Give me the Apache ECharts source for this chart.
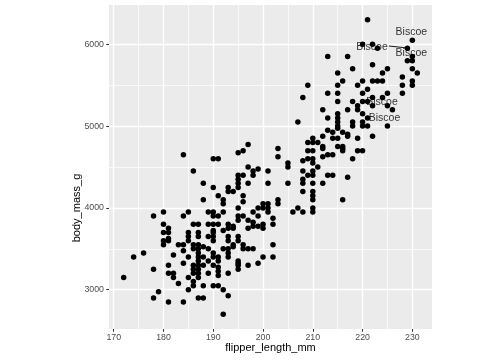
<!DOCTYPE html>
<html><head><meta charset="utf-8">
<script src="https://cdn.jsdelivr.net/npm/echarts@6/dist/echarts.min.js"></script>
<style>html,body{margin:0;padding:0;background:#fff}#c{width:504px;height:360px}</style>
</head><body><div id="c"></div>
<script>
// flipper_length_mm / body_mass_g pairs
const flipper = [
178,180,184,185,186,180,180,181,181,185,185,185,180,180,181,181,183,184,186,186,176,174,172,178,182,184,184,185,181,181,182,182,183,185,186,186,186,185,179,178,181,184,184,
197,196,195,190,191,197,199,186,198,201,195,196,198,195,188,195,197,201,190,193,195,193,194,191,196,188,192,196,192,200,201,195,199,200,201,189,190,192,198,201,190,191,195,196,199,195,197,198,187,189,190,191,193,200,194,198,199,193,194,197,200,190,192,187,190,187,189,190,193,195,190,193,195,187,194,196,188,194,187,189,192,193,196,197,198,187,190,193,187,188,190,191,193,200,187,189,191,195,195,199,187,188,190,195,197,191,186,187,195,191,186,187,189,193,191,187,188,190,191,192,193,187,188,192,
209,208,213,215,215,215,207,212,213,215,215,215,215,215,217,213,214,214,216,215,217,212,210,211,209,210,209,210,212,212,212,213,214,215,216,216,216,209,210,210,208,203,203,205,205,211,208,209,210,210,205,208,208,210,212,213,214,217,208,210,210,210,216,203,203,206,207,208,210,210,202,202,202,202,
221,230,220,222,223,229,230,230,229,217,213,222,218,225,224,215,231,230,228,228,228,230,230,216,220,222,223,224,219,221,220,225,218,219,220,221,222,222,224,225,226,219,220,221,220,220,218,218,221,225,217,219,222,219,220,218
];
const mass = [
3900,3950,3900,3950,3800,3800,3700,3750,3700,3700,3650,3600,3600,3550,3625,3600,3550,3550,3550,3500,3450,3400,3150,3250,3425,3475,3325,3400,3300,3200,3200,3150,3075,3150,3300,3100,3050,3000,2975,2900,2850,2850,4650,
4775,4700,4675,4600,4600,4500,4475,4450,4450,4450,4400,4400,4400,4350,4300,4300,4300,4300,4250,4250,4250,4200,4200,4150,4150,4100,4100,4075,4050,4050,4050,4000,4000,4000,4000,3950,3950,3950,3950,3950,3900,3900,3900,3900,3900,3850,3850,3825,3800,3800,3800,3800,3800,3800,3775,3775,3775,3750,3750,3750,3750,3725,3725,3700,3700,3650,3650,3650,3650,3650,3600,3600,3600,3550,3550,3550,3525,3525,3500,3500,3500,3500,3500,3500,3500,3450,3450,3450,3400,3400,3400,3400,3400,3400,3350,3350,3350,3350,3325,3325,3300,3300,3300,3300,3300,3275,3250,3250,3250,3225,3200,3200,3200,3200,3175,3150,3050,3050,3050,3000,2925,2900,2900,2700,
5500,5350,5400,5500,5400,5300,5050,5200,5100,5150,5100,5050,5000,4975,5200,4950,4925,4850,4925,4850,4900,4875,4850,4800,4800,4800,4700,4700,4750,4725,4625,4650,4650,4750,4750,4725,4700,4600,4600,4550,4575,4725,4625,4550,4500,4500,4450,4400,4450,4400,4300,4350,4300,4300,4300,4400,4400,4375,4200,4200,4150,4100,4100,4100,4050,3950,4000,3950,4000,3950,3875,3800,3550,3400,
6300,6050,6000,6000,5950,5950,5850,5800,5800,5850,5850,5750,5700,5700,5650,5650,5650,5700,5600,5500,5400,5550,5500,5550,5550,5550,5550,5550,5500,5450,5400,5400,5300,5250,5300,5300,5350,5250,5350,5250,5200,5200,5150,5100,5050,5000,5050,5000,5000,5000,4875,4850,4875,4700,4700,4600
];
const xTicks = [170,180,190,200,210,220,230];
const yTicks = [3000,4000,5000,6000];
const labelText = ['Biscoe','Biscoe','Biscoe','Biscoe','Biscoe'];
const labelX = [229.8,221.9,229.8,223.9,224.4];
const labelY = [6148,5971,5897,5299,5100];
const segX = [225.3,228.9];
const segY = [5979,5955];

const FONT = "'Liberation Sans', Arial, sans-serif";
const xr = [Math.min(...flipper), Math.max(...flipper)];
const yr = [Math.min(...mass), Math.max(...mass)];
const xMin = xr[0] - 0.05*(xr[1]-xr[0]), xMax = xr[1] + 0.05*(xr[1]-xr[0]);
const yMin = yr[0] - 0.05*(yr[1]-yr[0]), yMax = yr[1] + 0.05*(yr[1]-yr[0]);

const xMinor = xTicks.map(v => v + 5).filter(v => v > xMin && v < xMax);
const yMinor = [yTicks[0]-500].concat(yTicks.map(v => v + 500)).filter(v => v > yMin && v < yMax);

const gridLines = [];
xMinor.forEach(v => gridLines.push({xAxis: v, lineStyle: {width: 0.71}}));
yMinor.forEach(v => gridLines.push({yAxis: v, lineStyle: {width: 0.71}}));
xTicks.forEach(v => gridLines.push({xAxis: v, lineStyle: {width: 1.42}}));
yTicks.forEach(v => gridLines.push({yAxis: v, lineStyle: {width: 1.42}}));

const pts = flipper.map((f, i) => [f, mass[i]]);
const labs = labelText.map((t, i) => ({value: [labelX[i], labelY[i]], name: t}));

const chart = echarts.init(document.getElementById('c'), null, {renderer: 'canvas'});
chart.setOption({
  animation: false,
  grid: {left: 109, top: 5, width: 323, height: 324, show: true, backgroundColor: '#EBEBEB', borderWidth: 0},
  xAxis: {
    type: 'value', min: xMin, max: xMax,
    axisLine: {show: false},
    splitLine: {show: false},
    axisTick: {show: true, length: 2.74, customValues: xTicks, lineStyle: {color: '#333333', width: 1.07}},
    axisLabel: {customValues: xTicks, margin: 4.5, color: '#4D4D4D', fontSize: 8.8, fontFamily: FONT, formatter: v => String(v)}
  },
  yAxis: {
    type: 'value', min: yMin, max: yMax,
    axisLine: {show: false},
    splitLine: {show: false},
    axisTick: {show: true, length: 2.74, customValues: yTicks, lineStyle: {color: '#333333', width: 1.07}},
    axisLabel: {customValues: yTicks, margin: 5, color: '#4D4D4D', fontSize: 8.8, fontFamily: FONT, formatter: v => String(v)}
  },
  graphic: [
    {type: 'text', x: 270.5, y: 348, style: {text: 'flipper_length_mm', fill: '#000', font: '11px ' + FONT, textAlign: 'center', textVerticalAlign: 'middle'}},
    {type: 'text', x: 77, y: 208, rotation: Math.PI/2, style: {text: 'body_mass_g', fill: '#000', font: '11px ' + FONT, textAlign: 'center', textVerticalAlign: 'middle'}}
  ],
  series: [
    {
      type: 'scatter', data: [[xMin, yMin]], symbolSize: 0, z: 1, silent: true,
      markLine: {silent: true, z: 1, symbol: ['none','none'], label: {show: false},
        lineStyle: {color: '#FFFFFF', type: 'solid'}, data: gridLines, animation: false}
    },
    {
      type: 'scatter', data: pts, symbol: 'circle', symbolSize: 5.5, z: 3,
      itemStyle: {color: '#000000', borderWidth: 0, opacity: 1}
    },
    {
      type: 'line', data: segX.map((x, i) => [x, segY[i]]), showSymbol: false, z: 4,
      lineStyle: {color: '#000', width: 0.9}
    },
    {
      type: 'scatter', data: labs, symbolSize: 0, z: 5,
      label: {show: true, position: 'inside', formatter: p => p.name, color: '#000', fontSize: 10.5, fontFamily: FONT}
    }
  ]
});
</script>
</body></html>
